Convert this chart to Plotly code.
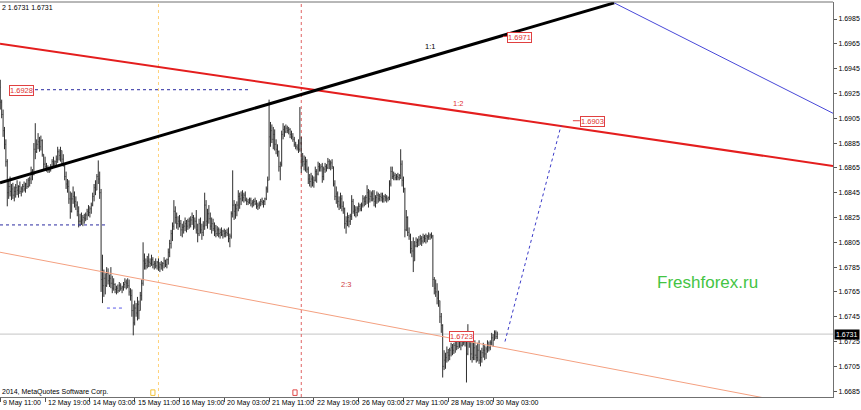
import plotly.graph_objects as go

# ---------------- data (GBPUSD H1) ----------------
TICK_BARS = [0, 32, 64, 96, 128, 160, 192, 224, 256, 288, 320, 352]
TICK_LABELS = ["9 May 11:00", "12 May 19:00", "14 May 03:00", "15 May 11:00",
               "16 May 19:00", "20 May 03:00", "21 May 11:00", "22 May 19:00",
               "26 May 03:00", "27 May 11:00", "28 May 19:00", "30 May 03:00"]
PRICE_TICKS = [1.6685, 1.6705, 1.6725, 1.6745, 1.6765, 1.6785, 1.6805, 1.6825,
               1.6845, 1.6865, 1.6885, 1.6905, 1.6925, 1.6945, 1.6965, 1.6985]

FIRST_OPEN = 1.6930
HIGH = [1.6936,1.6920,1.6912,1.6898,1.6888,1.6872,1.6856,1.6858,1.6852,1.6853,
1.6850,1.6852,1.6855,1.6851,1.6854,1.6850,1.6852,1.6854,1.6853,1.6856,
1.6857,1.6858,1.6866,1.6864,1.6885,1.6901,1.6888,1.6893,1.6890,1.6891,
1.6888,1.6876,1.6874,1.6869,1.6867,1.6866,1.6868,1.6872,1.6874,1.6871,
1.6875,1.6882,1.6880,1.6882,1.6879,1.6876,1.6868,1.6862,1.6856,1.6855,
1.6846,1.6845,1.6850,1.6846,1.6842,1.6838,1.6834,1.6828,1.6829,1.6827,
1.6828,1.6829,1.6832,1.6835,1.6834,1.6837,1.6845,1.6852,1.6855,1.6860,
1.6871,1.6862,1.6848,1.6795,1.6783,1.6780,1.6785,1.6784,1.6779,1.6785,
1.6778,1.6776,1.6772,1.6770,1.6771,1.6773,1.6772,1.6770,1.6773,1.6776,
1.6775,1.6776,1.6775,1.6768,1.6767,1.6755,1.6758,1.6756,1.6761,1.6758,
1.6765,1.6775,1.6805,1.6796,1.6792,1.6794,1.6796,1.6792,1.6795,1.6793,
1.6790,1.6792,1.6790,1.6792,1.6789,1.6790,1.6789,1.6793,1.6791,1.6792,
1.6800,1.6807,1.6815,1.6821,1.6839,1.6834,1.6829,1.6826,1.6827,1.6823,
1.6820,1.6822,1.6825,1.6823,1.6824,1.6825,1.6826,1.6829,1.6827,1.6825,
1.6831,1.6820,1.6824,1.6825,1.6820,1.6822,1.6845,1.6839,1.6832,1.6835,
1.6829,1.6825,1.6824,1.6821,1.6819,1.6818,1.6817,1.6816,1.6817,1.6815,
1.6816,1.6815,1.6816,1.6817,1.6812,1.6830,1.6863,1.6839,1.6836,1.6838,
1.6847,1.6845,1.6846,1.6847,1.6845,1.6846,1.6841,1.6840,1.6841,1.6841,
1.6839,1.6840,1.6841,1.6839,1.6837,1.6838,1.6840,1.6841,1.6839,1.6841,
1.6850,1.6858,1.6920,1.6902,1.6900,1.6898,1.6896,1.6888,1.6884,1.6879,
1.6870,1.6895,1.6901,1.6899,1.6900,1.6899,1.6898,1.6897,1.6895,1.6893,
1.6890,1.6886,1.6884,1.6888,1.6914,1.6890,1.6877,1.6875,1.6874,1.6872,
1.6866,1.6860,1.6861,1.6859,1.6858,1.6866,1.6864,1.6870,1.6869,1.6868,
1.6869,1.6866,1.6869,1.6868,1.6873,1.6872,1.6871,1.6872,1.6866,1.6855,
1.6850,1.6846,1.6842,1.6845,1.6843,1.6838,1.6833,1.6826,1.6829,1.6827,
1.6828,1.6843,1.6840,1.6835,1.6834,1.6834,1.6837,1.6836,1.6837,1.6843,
1.6842,1.6843,1.6851,1.6848,1.6847,1.6846,1.6847,1.6847,1.6843,1.6846,
1.6845,1.6844,1.6845,1.6845,1.6843,1.6844,1.6843,1.6842,1.6855,1.6866,
1.6866,1.6862,1.6861,1.6860,1.6861,1.6860,1.6880,1.6871,1.6858,1.6849,
1.6831,1.6826,1.6817,1.6812,1.6806,1.6809,1.6806,1.6809,1.6808,1.6810,
1.6811,1.6810,1.6812,1.6811,1.6812,1.6811,1.6813,1.6812,1.6813,1.6811,
1.6777,1.6775,1.6772,1.6766,1.6758,1.6748,1.6739,1.6718,1.6716,1.6721,
1.6719,1.6720,1.6724,1.6723,1.6724,1.6729,1.6727,1.6728,1.6732,1.6730,
1.6729,1.6728,1.6729,1.6729,1.6739,1.6733,1.6729,1.6726,1.6725,1.6726,
1.6722,1.6724,1.6726,1.6718,1.6720,1.6724,1.6722,1.6721,1.6726,1.6725,
1.6726,1.6732,1.6731,1.6734,1.6734,1.6733]
LOW = [1.6912,1.6905,1.6890,1.6880,1.6866,1.6834,1.6840,1.6842,1.6839,1.6840,
1.6838,1.6841,1.6843,1.6841,1.6844,1.6842,1.6845,1.6846,1.6845,1.6848,
1.6849,1.6850,1.6852,1.6855,1.6859,1.6872,1.6877,1.6880,1.6878,1.6879,
1.6874,1.6864,1.6863,1.6862,1.6861,1.6861,1.6862,1.6864,1.6866,1.6865,
1.6867,1.6869,1.6871,1.6870,1.6868,1.6866,1.6855,1.6848,1.6845,1.6836,
1.6824,1.6829,1.6836,1.6833,1.6831,1.6826,1.6817,1.6818,1.6819,1.6818,
1.6820,1.6822,1.6823,1.6826,1.6825,1.6828,1.6834,1.6838,1.6843,1.6847,
1.6852,1.6840,1.6765,1.6756,1.6761,1.6763,1.6769,1.6771,1.6769,1.6768,
1.6764,1.6766,1.6764,1.6763,1.6764,1.6765,1.6766,1.6764,1.6766,1.6768,
1.6767,1.6768,1.6762,1.6758,1.6745,1.6730,1.6738,1.6745,1.6742,1.6743,
1.6750,1.6758,1.6770,1.6783,1.6783,1.6784,1.6785,1.6785,1.6786,1.6784,
1.6783,1.6784,1.6783,1.6782,1.6781,1.6783,1.6782,1.6784,1.6785,1.6784,
1.6787,1.6793,1.6800,1.6806,1.6815,1.6820,1.6816,1.6815,1.6817,1.6810,
1.6809,1.6812,1.6814,1.6813,1.6815,1.6816,1.6817,1.6819,1.6815,1.6816,
1.6812,1.6805,1.6810,1.6812,1.6807,1.6810,1.6815,1.6818,1.6816,1.6820,
1.6815,1.6812,1.6814,1.6810,1.6809,1.6810,1.6809,1.6808,1.6810,1.6808,
1.6809,1.6809,1.6810,1.6805,1.6801,1.6808,1.6825,1.6823,1.6824,1.6826,
1.6830,1.6832,1.6835,1.6838,1.6837,1.6838,1.6835,1.6835,1.6836,1.6834,
1.6833,1.6834,1.6835,1.6832,1.6831,1.6832,1.6834,1.6835,1.6833,1.6835,
1.6839,1.6845,1.6855,1.6882,1.6885,1.6880,1.6879,1.6876,1.6874,1.6862,
1.6855,1.6866,1.6888,1.6890,1.6893,1.6893,1.6892,1.6889,1.6888,1.6886,
1.6882,1.6880,1.6879,1.6877,1.6878,1.6861,1.6866,1.6863,1.6862,1.6861,
1.6852,1.6850,1.6849,1.6850,1.6849,1.6854,1.6853,1.6859,1.6862,1.6862,
1.6853,1.6855,1.6861,1.6862,1.6864,1.6864,1.6863,1.6864,1.6850,1.6839,
1.6836,1.6833,1.6831,1.6832,1.6830,1.6828,1.6816,1.6812,1.6818,1.6817,
1.6819,1.6823,1.6828,1.6826,1.6825,1.6826,1.6829,1.6830,1.6830,1.6833,
1.6834,1.6835,1.6836,1.6833,1.6837,1.6838,1.6838,1.6834,1.6833,1.6836,
1.6837,1.6838,1.6838,1.6837,1.6837,1.6838,1.6837,1.6838,1.6839,1.6850,
1.6856,1.6855,1.6855,1.6855,1.6855,1.6855,1.6856,1.6850,1.6845,1.6809,
1.6814,1.6810,1.6807,1.6796,1.6793,1.6781,1.6790,1.6801,1.6801,1.6802,
1.6803,1.6802,1.6804,1.6805,1.6804,1.6805,1.6807,1.6807,1.6808,1.6769,
1.6763,1.6761,1.6755,1.6753,1.6740,1.6732,1.6696,1.6702,1.6703,1.6708,
1.6709,1.6710,1.6713,1.6714,1.6715,1.6716,1.6718,1.6719,1.6720,1.6718,
1.6721,1.6722,1.6721,1.6692,1.6714,1.6720,1.6710,1.6708,1.6710,1.6710,
1.6708,1.6709,1.6707,1.6705,1.6708,1.6712,1.6710,1.6711,1.6716,1.6717,
1.6718,1.6722,1.6721,1.6726,1.6727,1.6727]
CLOSE = [1.6918,1.6908,1.6895,1.6884,1.6870,1.6845,1.6850,1.6846,1.6848,1.6843,
1.6846,1.6849,1.6847,1.6850,1.6846,1.6848,1.6850,1.6848,1.6852,1.6850,
1.6855,1.6856,1.6862,1.6860,1.6880,1.6878,1.6884,1.6886,1.6882,1.6887,
1.6876,1.6868,1.6866,1.6865,1.6863,1.6864,1.6866,1.6870,1.6868,1.6870,
1.6872,1.6878,1.6875,1.6879,1.6872,1.6868,1.6858,1.6852,1.6850,1.6840,
1.6830,1.6840,1.6842,1.6838,1.6835,1.6830,1.6822,1.6822,1.6823,1.6825,
1.6824,1.6827,1.6830,1.6829,1.6832,1.6835,1.6842,1.6849,1.6847,1.6858,
1.6856,1.6845,1.6775,1.6770,1.6776,1.6770,1.6780,1.6774,1.6776,1.6772,
1.6768,1.6771,1.6767,1.6768,1.6766,1.6770,1.6768,1.6769,1.6771,1.6773,
1.6772,1.6770,1.6765,1.6762,1.6750,1.6740,1.6752,1.6748,1.6755,1.6750,
1.6762,1.6772,1.6790,1.6788,1.6786,1.6790,1.6789,1.6788,1.6791,1.6787,
1.6788,1.6786,1.6789,1.6785,1.6787,1.6786,1.6788,1.6790,1.6787,1.6791,
1.6797,1.6804,1.6812,1.6818,1.6830,1.6825,1.6820,1.6822,1.6820,1.6815,
1.6817,1.6818,1.6820,1.6818,1.6822,1.6819,1.6823,1.6825,1.6818,1.6822,
1.6815,1.6812,1.6820,1.6815,1.6813,1.6818,1.6835,1.6822,1.6828,1.6824,
1.6818,1.6820,1.6816,1.6814,1.6812,1.6815,1.6812,1.6813,1.6811,1.6814,
1.6812,1.6813,1.6812,1.6808,1.6810,1.6828,1.6835,1.6830,1.6832,1.6835,
1.6842,1.6840,1.6843,1.6841,1.6843,1.6839,1.6838,1.6837,1.6839,1.6836,
1.6837,1.6838,1.6836,1.6834,1.6835,1.6836,1.6838,1.6837,1.6838,1.6840,
1.6848,1.6855,1.6890,1.6895,1.6888,1.6892,1.6884,1.6880,1.6878,1.6866,
1.6868,1.6892,1.6896,1.6894,1.6897,1.6895,1.6896,1.6892,1.6890,1.6888,
1.6884,1.6882,1.6881,1.6880,1.6885,1.6872,1.6870,1.6868,1.6870,1.6864,
1.6856,1.6854,1.6856,1.6853,1.6855,1.6862,1.6860,1.6866,1.6865,1.6866,
1.6858,1.6864,1.6866,1.6865,1.6870,1.6868,1.6869,1.6866,1.6852,1.6842,
1.6844,1.6838,1.6835,1.6840,1.6834,1.6832,1.6820,1.6822,1.6825,1.6822,
1.6826,1.6838,1.6830,1.6831,1.6829,1.6832,1.6834,1.6832,1.6835,1.6840,
1.6838,1.6841,1.6845,1.6840,1.6842,1.6844,1.6840,1.6838,1.6841,1.6843,
1.6840,1.6842,1.6841,1.6840,1.6842,1.6841,1.6840,1.6841,1.6852,1.6862,
1.6858,1.6859,1.6857,1.6858,1.6857,1.6859,1.6868,1.6855,1.6848,1.6815,
1.6825,1.6813,1.6810,1.6800,1.6798,1.6790,1.6802,1.6805,1.6806,1.6807,
1.6808,1.6806,1.6809,1.6808,1.6810,1.6809,1.6810,1.6811,1.6810,1.6775,
1.6768,1.6765,1.6760,1.6758,1.6745,1.6738,1.6705,1.6710,1.6712,1.6716,
1.6714,1.6718,1.6720,1.6718,1.6722,1.6725,1.6721,1.6726,1.6728,1.6722,
1.6725,1.6724,1.6726,1.6715,1.6725,1.6726,1.6715,1.6712,1.6720,1.6714,
1.6712,1.6718,1.6710,1.6712,1.6716,1.6718,1.6715,1.6719,1.6722,1.6720,
1.6724,1.6728,1.6726,1.6732,1.6729,1.6731]
LAST_PRICE = 1.6731

# drawn objects (bar index, price)
LINE_11_X, LINE_11_Y = [-0.2, 438.5], [1.6853, 1.6998]      # black 1:1
LINE_12_X, LINE_12_Y = [-0.2, 594.8], [1.6965, 1.68665]     # red 1:2
LINE_23_X, LINE_23_Y = [-0.2, 594.8], [1.6797, 1.6669]      # salmon 2:3
BLUE_X, BLUE_Y = [438.5, 594.8], [1.6998, 1.6909]           # thin blue
PROJ_X, PROJ_Y = [360.5, 400.5], [1.6725, 1.6899]           # dotted projection
HLINE_X0 = [24.8, -0.2, 76.2]
HLINE_X1 = [178.4, 74.8, 87.0]
HLINE_Y = [1.6928, 1.6819, 1.6752]
HLINE_COL = ["#2a2aa0", "#2a2aa0", "#5a5ae8"]
VLINE_BARS = [113, 215]
VLINE_COL = ["#ffd27a", "#e06464"]
EVENT_BARS = [109, 210.5]
EVENT_COL = ["#f2c23a", "#e04848"]
PRICE_LABELS = ["1.6971", "1.6903", "1.6928", "1.6723"]
PRICE_LABEL_X = [371.2, 422.7, 14.8, 329.1]
PRICE_LABEL_Y = [1.6970, 1.6902, 1.6927, 1.6729]
DASH_X0, DASH_X1, DASH_Y = [359.0, 409.0], [362.4, 414.0], [1.6971, 1.6903]
FAN_TEXT = ["1:1", "1:2", "2:3"]
FAN_X = [306.9, 326.9, 246.9]
FAN_Y = [1.6963, 1.6917, 1.6771]
FAN_COL = ["#000000", "#e03030", "#d04040"]

X_RANGE = [-0.2, 594.8]
Y_RANGE = [1.66803, 1.69987]

FONT = "Liberation Sans"

# ---------------- figure ----------------
n = len(CLOSE)
bars = list(range(n))
opens = [FIRST_OPEN] + CLOSE[:-1]

fig = go.Figure()

# horizontal dotted levels
for x0, x1, y, c in zip(HLINE_X0, HLINE_X1, HLINE_Y, HLINE_COL):
    fig.add_trace(go.Scatter(x=[x0, x1], y=[y, y], mode="lines",
                             line=dict(color=c, width=1, dash="dot"),
                             hoverinfo="skip", showlegend=False))

fig.add_trace(go.Scatter(x=LINE_23_X, y=LINE_23_Y, mode="lines",
                         line=dict(color="#f4a080", width=1),
                         hoverinfo="skip", showlegend=False))

fig.add_trace(go.Ohlc(x=bars, open=opens, high=HIGH, low=LOW, close=CLOSE,
                      increasing=dict(line=dict(color="#2e2e2e", width=1)),
                      decreasing=dict(line=dict(color="#2e2e2e", width=1)),
                      tickwidth=0.35, hoverinfo="skip", showlegend=False))

fig.add_trace(go.Scatter(x=LINE_12_X, y=LINE_12_Y, mode="lines",
                         line=dict(color="#e41e1e", width=2),
                         hoverinfo="skip", showlegend=False))
fig.add_trace(go.Scatter(x=LINE_11_X, y=LINE_11_Y, mode="lines",
                         line=dict(color="#000000", width=3),
                         hoverinfo="skip", showlegend=False))
fig.add_trace(go.Scatter(x=BLUE_X, y=BLUE_Y, mode="lines",
                         line=dict(color="#4848d8", width=1),
                         hoverinfo="skip", showlegend=False))
fig.add_trace(go.Scatter(x=PROJ_X, y=PROJ_Y, mode="lines",
                         line=dict(color="#3a3ac8", width=1, dash="dot"),
                         hoverinfo="skip", showlegend=False))
for x0, x1, y in zip(DASH_X0, DASH_X1, DASH_Y):
    fig.add_trace(go.Scatter(x=[x0, x1], y=[y, y], mode="lines",
                             line=dict(color="#e04040", width=1),
                             hoverinfo="skip", showlegend=False))

shapes = []
# bid line
shapes.append(dict(type="line", xref="paper", x0=0, x1=1, yref="y",
                   y0=LAST_PRICE, y1=LAST_PRICE,
                   line=dict(color="#c4c4c4", width=1), layer="below"))
for b, c in zip(VLINE_BARS, VLINE_COL):
    shapes.append(dict(type="line", xref="x", x0=b, x1=b, yref="paper",
                       y0=0, y1=1, line=dict(color=c, width=1, dash="dot"),
                       layer="below"))
for b, c in zip(EVENT_BARS, EVENT_COL):
    shapes.append(dict(type="rect", xref="x", x0=b - 1.5, x1=b + 1.5,
                       yref="paper", y0=0.004, y1=0.018,
                       line=dict(color=c, width=1), fillcolor="white"))
# frame (top)
shapes.append(dict(type="line", xref="paper", x0=0, x1=1, yref="paper",
                   y0=1, y1=1, line=dict(color="#707070", width=1)))

annotations = []
for b, t in zip(TICK_BARS, TICK_LABELS):
    annotations.append(dict(x=b, xref="x", y=-0.0155, yref="paper", text=t,
                            showarrow=False, xanchor="left", yanchor="middle",
                            xshift=1, font=dict(family=FONT, size=7, color="#000")))
for t, x, y in zip(PRICE_LABELS, PRICE_LABEL_X, PRICE_LABEL_Y):
    annotations.append(dict(x=x, y=y, xref="x", yref="y", text=t, showarrow=False,
                            font=dict(family=FONT, size=7.5, color="#e03030"),
                            bgcolor="white", bordercolor="#e04040",
                            borderwidth=1, borderpad=0))
for t, x, y, c in zip(FAN_TEXT, FAN_X, FAN_Y, FAN_COL):
    annotations.append(dict(x=x, y=y, xref="x", yref="y", text=t, showarrow=False,
                            font=dict(family=FONT, size=7.5, color=c)))
annotations.append(dict(x=1, xref="paper", y=LAST_PRICE, yref="y",
                        text="%.4f" % LAST_PRICE, showarrow=False,
                        xanchor="left", yanchor="middle", xshift=1,
                        font=dict(family=FONT, size=7, color="white"),
                        bgcolor="black", borderpad=1))
annotations.append(dict(x=0, xref="paper", y=0.987, yref="paper",
                        text="2 %.4f %.4f" % (LAST_PRICE, LAST_PRICE),
                        showarrow=False, xanchor="left", yanchor="middle",
                        font=dict(family=FONT, size=7, color="#000")))
annotations.append(dict(x=0, xref="paper", y=0.013, yref="paper",
                        text="2014, MetaQuotes Software Corp.",
                        showarrow=False, xanchor="left", yanchor="middle",
                        font=dict(family=FONT, size=7, color="#000")))
annotations.append(dict(x=0.849, xref="paper", y=0.291, yref="paper",
                        text="Freshforex.ru", showarrow=False,
                        xanchor="center", yanchor="middle",
                        font=dict(family=FONT, size=17, color="#44c444")))

fig.update_layout(
    width=861, height=410,
    margin=dict(l=0, r=28, t=2, b=13),
    paper_bgcolor="white", plot_bgcolor="white",
    showlegend=False,
    shapes=shapes, annotations=annotations,
    xaxis=dict(range=X_RANGE, showgrid=False, zeroline=False,
               tickmode="array", tickvals=TICK_BARS, showticklabels=False,
               ticks="outside", ticklen=4, tickcolor="#555",
               showline=True, linecolor="#707070", linewidth=1,
               rangeslider=dict(visible=False), fixedrange=True,
               automargin=False),
    yaxis=dict(range=Y_RANGE, side="right", showgrid=False, zeroline=False,
               tickmode="array", tickvals=PRICE_TICKS,
               ticktext=["%.4f" % v for v in PRICE_TICKS],
               ticks="outside", ticklen=3, tickcolor="#555",
               tickfont=dict(family=FONT, size=7, color="#000"),
               showline=True, linecolor="#707070", linewidth=1,
               fixedrange=True, automargin=False),
)

fig.write_html("out.html", config={"displayModeBar": False},
               post_script="document.body.style.margin='0';"
                           "document.body.style.overflow='hidden';")
